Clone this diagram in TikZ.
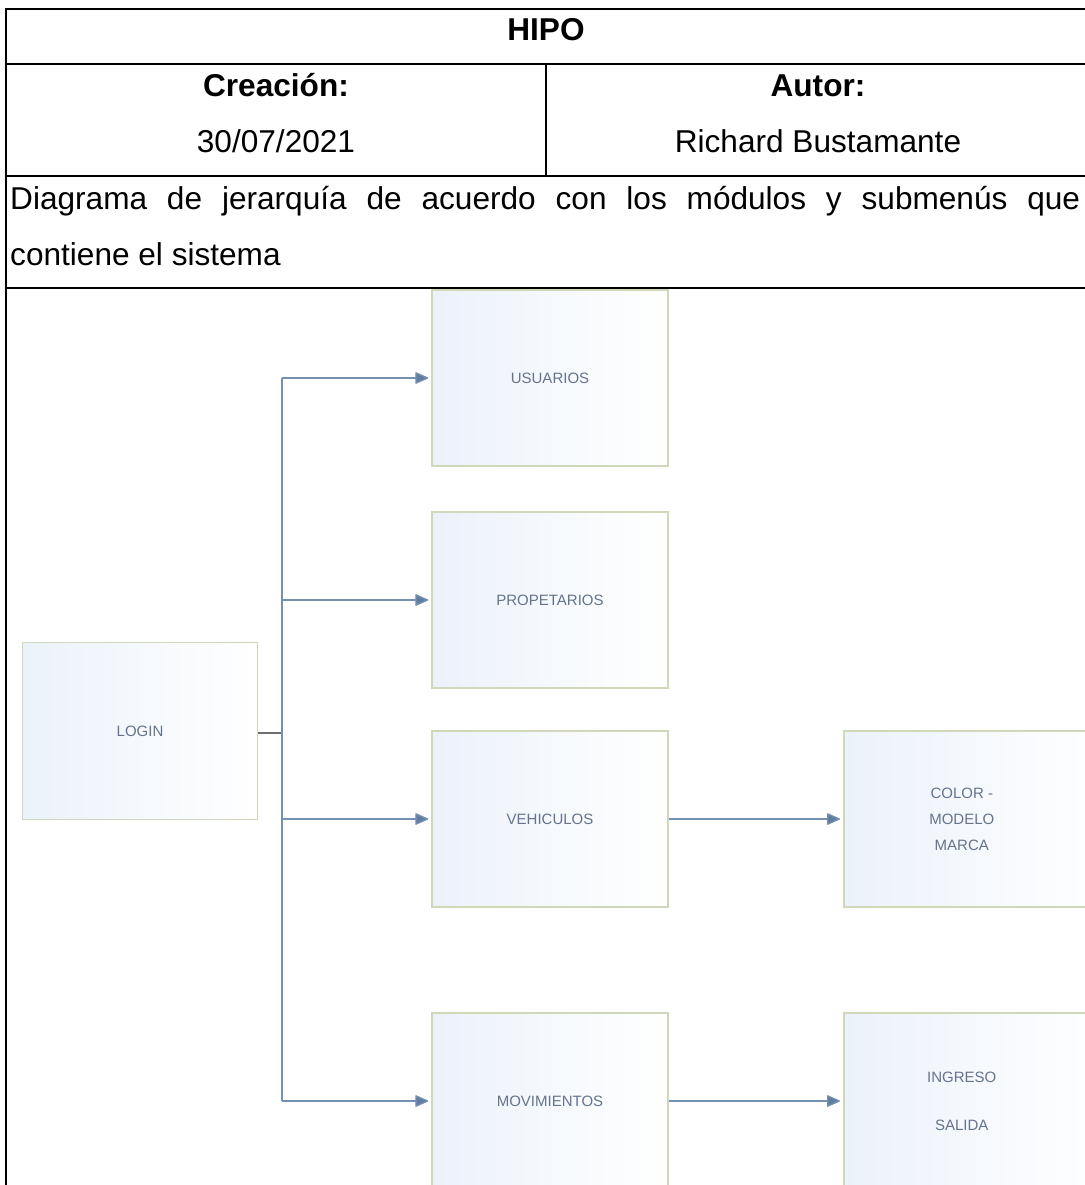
\documentclass[tikz,border=0pt]{standalone}
\usepackage{fontspec}
\setmainfont{Liberation Sans}
\usetikzlibrary{arrows.meta}

\definecolor{gridline}{RGB}{0,0,0}
\definecolor{boxedge}{RGB}{208,216,186}
\definecolor{boxtint}{RGB}{236,242,250}
\definecolor{boxtext}{RGB}{100,116,140}
\definecolor{linkblue}{RGB}{118,144,176}
\definecolor{tipblue}{RGB}{96,124,160}
\definecolor{stubgray}{RGB}{110,110,110}

\tikzset{
  rule/.style={draw=gridline, line width=2.2pt},
  cell/.style={font=\fontsize{31.6}{56}\selectfont, anchor=base, inner sep=0pt},
  module/.style={draw=boxedge, line width=1.5pt, left color=boxtint, right color=white,
    minimum width=236pt, minimum height=176pt, inner sep=0pt, align=center,
    text=boxtext, font=\fontsize{15}{26}\selectfont},
  widemodule/.style={module, minimum width=262pt},
  link/.style={draw=linkblue, line width=1.3pt},
  linkarrow/.style={link, shorten >=3pt,
    -{Triangle[length=14pt,width=12pt,round,fill=tipblue]}},
}

\begin{document}
\begin{tikzpicture}[x=1pt, y=-1pt]
  \useasboundingbox (0,0) rectangle (1084,1185);
  \fill[white] (0,0) rectangle (1084,1185);

  % header table
  \draw[rule] (6,1185) -- (6,9) -- (1095,9);
  \draw[rule] (6,64) -- (1095,64);
  \draw[rule] (6,176) -- (1095,176);
  \draw[rule] (6,288) -- (1095,288);
  \draw[rule] (546,64) -- (546,176);

  \node[cell] (title) at (546,41) {\textbf{HIPO}};
  \node[cell] (creacion) at (276,97) {\textbf{Creación:}};
  \node[cell] (fecha) at (276,153) {30/07/2021};
  \node[cell] (autor) at (818,97) {\textbf{Autor:}};
  \node[cell] (nombre) at (818,153) {Richard Bustamante};
  \node[cell, anchor=base west] (desc1) at (10,209)
    {\makebox[1070pt][s]{Diagrama de jerarquía de acuerdo con los módulos y submenús que}};
  \node[cell, anchor=base west] (desc2) at (10,265) {contiene el sistema};

  % module boxes
  \node[module] (usuarios) at (550,378) {USUARIOS};
  \node[module] (propietarios) at (550,600) {PROPETARIOS};
  \node[module, minimum width=235pt, minimum height=177pt] (login) at (140,731) {LOGIN};
  \node[module] (vehiculos) at (550,819) {VEHICULOS};
  \node[module] (movimientos) at (550,1101) {MOVIMIENTOS};
  % submodule boxes run past the right edge; their text stays centred on the visible part
  \node[widemodule, anchor=west] (color) at (843,819)
    {\makebox[262pt][l]{\parbox{236pt}{\centering COLOR -\\MODELO\\MARCA}}};
  \node[widemodule, anchor=west] (ingreso) at (843,1101)
    {\makebox[262pt][l]{\parbox{236pt}{\centering INGRESO\\[22pt]SALIDA}}};

  % hierarchy connectors
  \coordinate (trunk) at (282,733);
  \coordinate (ttop) at (282,378);
  \coordinate (tbot) at (282,1101);
  \draw[draw=stubgray, line width=1.3pt] (login.east |- trunk) -- (trunk);
  \draw[link] (ttop) -- (tbot);
  \draw[linkarrow] (ttop) -- (usuarios.west);
  \draw[linkarrow] (ttop |- propietarios.west) -- (propietarios.west);
  \draw[linkarrow] (ttop |- vehiculos.west) -- (vehiculos.west);
  \draw[linkarrow] (tbot) -- (movimientos.west);
  \draw[linkarrow] (vehiculos.east) -- (color.west);
  \draw[linkarrow] (movimientos.east) -- (ingreso.west);
\end{tikzpicture}
\end{document}
